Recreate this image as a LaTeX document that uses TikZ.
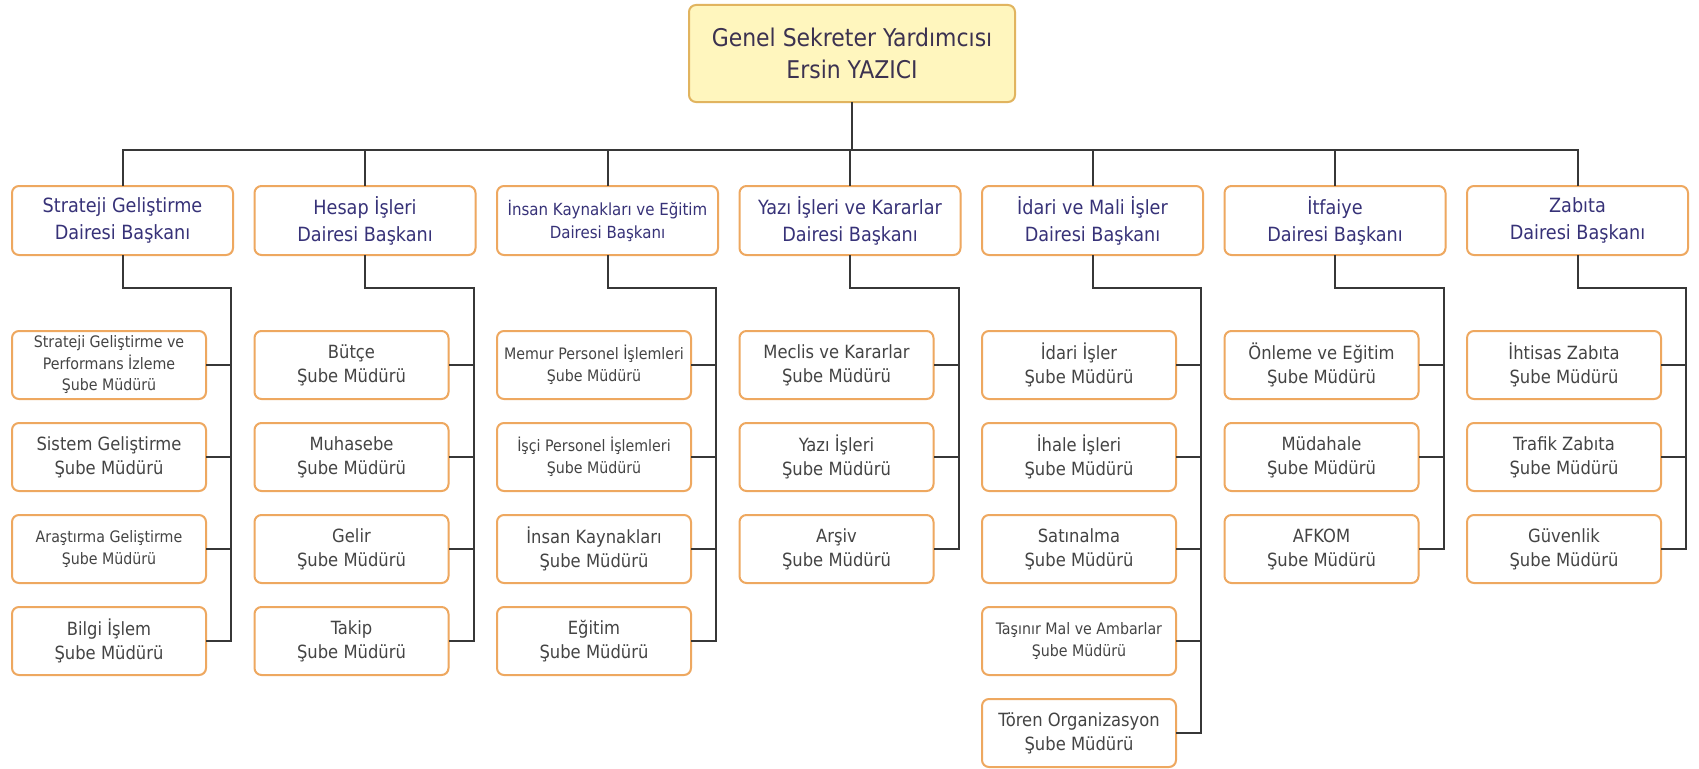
\documentclass[tikz,border=0pt]{standalone}
\usepackage{fontspec}
\setmainfont{DejaVu Sans Condensed}
\usetikzlibrary{shadows}
\definecolor{boxorange}{RGB}{238,168,96}
\definecolor{topborder}{RGB}{225,180,95}
\definecolor{topfill}{RGB}{255,246,190}
\definecolor{partext}{RGB}{55,50,120}
\definecolor{toptext}{RGB}{60,50,80}
\definecolor{chtext}{RGB}{68,68,68}
\definecolor{linecol}{RGB}{55,55,55}
\tikzset{
  box/.style={draw=boxorange, line width=2pt, rounded corners=7pt, fill=white,
    align=center, inner sep=0pt,
    drop shadow={shadow xshift=0.8pt, shadow yshift=-0.8pt, fill=boxorange!35, opacity=0.6}},
  topbox/.style={box, draw=topborder, fill=topfill, minimum width=326pt, minimum height=97pt,
    text=toptext, font=\fontsize{24.4}{32}\selectfont},
  parentbox/.style={box, minimum width=221pt, minimum height=69pt,
    text=partext, font=\fontsize{19.6}{27}\selectfont},
  parentsmall/.style={parentbox, font=\fontsize{16.7}{23}\selectfont},
  childbox/.style={box, minimum width=194pt, minimum height=68pt,
    text=chtext, font=\fontsize{18.2}{24}\selectfont},
  childsmall/.style={childbox, font=\fontsize{15.8}{21.5}\selectfont},
  conn/.style={draw=linecol, line width=2pt, line join=miter, line cap=rect}
}
\begin{document}
\begin{tikzpicture}[x=1pt, y=-1pt]
\fill[white] (0,0) rectangle (1699,768);
\useasboundingbox (0,0) rectangle (1699,768);

% top
\node[topbox] (top) at (852,53.5) {Genel Sekreter Yardımcısı\\Ersin YAZICI};

% parents
\node[parentbox] (p1) at (122.5,220.5) {Strateji Geliştirme\\Dairesi Başkanı};
\node[parentbox] (p2) at (365,220.5) {Hesap İşleri\\Dairesi Başkanı};
\node[parentsmall] (p3) at (607.5,220.5) {İnsan Kaynakları ve Eğitim\\Dairesi Başkanı};
\node[parentbox] (p4) at (850,220.5) {Yazı İşleri ve Kararlar\\Dairesi Başkanı};
\node[parentbox] (p5) at (1092.5,220.5) {İdari ve Mali İşler\\Dairesi Başkanı};
\node[parentbox] (p6) at (1335,220.5) {İtfaiye\\Dairesi Başkanı};
\node[parentbox] (p7) at (1577.5,220.5) {Zabıta\\Dairesi Başkanı};

% column 1
\node[childsmall] (c11) at (109,365) {Strateji Geliştirme ve\\Performans İzleme\\Şube Müdürü};
\node[childbox] (c12) at (109,457) {Sistem Geliştirme\\Şube Müdürü};
\node[childsmall] (c13) at (109,549) {Araştırma Geliştirme\\Şube Müdürü};
\node[childbox] (c14) at (109,641) {Bilgi İşlem\\Şube Müdürü};
% column 2
\node[childbox] (c21) at (351.5,365) {Bütçe\\Şube Müdürü};
\node[childbox] (c22) at (351.5,457) {Muhasebe\\Şube Müdürü};
\node[childbox] (c23) at (351.5,549) {Gelir\\Şube Müdürü};
\node[childbox] (c24) at (351.5,641) {Takip\\Şube Müdürü};
% column 3
\node[childsmall] (c31) at (594,365) {Memur Personel İşlemleri\\Şube Müdürü};
\node[childsmall] (c32) at (594,457) {İşçi Personel İşlemleri\\Şube Müdürü};
\node[childbox] (c33) at (594,549) {İnsan Kaynakları\\Şube Müdürü};
\node[childbox] (c34) at (594,641) {Eğitim\\Şube Müdürü};
% column 4
\node[childbox] (c41) at (836.5,365) {Meclis ve Kararlar\\Şube Müdürü};
\node[childbox] (c42) at (836.5,457) {Yazı İşleri\\Şube Müdürü};
\node[childbox] (c43) at (836.5,549) {Arşiv\\Şube Müdürü};
% column 5
\node[childbox] (c51) at (1079,365) {İdari İşler\\Şube Müdürü};
\node[childbox] (c52) at (1079,457) {İhale İşleri\\Şube Müdürü};
\node[childbox] (c53) at (1079,549) {Satınalma\\Şube Müdürü};
\node[childsmall] (c54) at (1079,641) {Taşınır Mal ve Ambarlar\\Şube Müdürü};
\node[childbox] (c55) at (1079,733) {Tören Organizasyon\\Şube Müdürü};
% column 6
\node[childbox] (c61) at (1321.5,365) {Önleme ve Eğitim\\Şube Müdürü};
\node[childbox] (c62) at (1321.5,457) {Müdahale\\Şube Müdürü};
\node[childbox] (c63) at (1321.5,549) {AFKOM\\Şube Müdürü};
% column 7
\node[childbox] (c71) at (1564,365) {İhtisas Zabıta\\Şube Müdürü};
\node[childbox] (c72) at (1564,457) {Trafik Zabıta\\Şube Müdürü};
\node[childbox] (c73) at (1564,549) {Güvenlik\\Şube Müdürü};

% top bus
\coordinate (busL) at (122.5,150);
\coordinate (busR) at (1577.5,150);
\begin{scope}[on background layer/.try]
\end{scope}
\draw[conn] (busL) -- (busR);
\draw[conn] (top.south) -- (top.south |- busL);
\foreach \p in {p1,p2,p3,p4,p5,p6,p7}{
  \draw[conn] (\p.north) -- (\p.north |- busL);
}

% elbows
\coordinate (e1) at (231,288);
\coordinate (e2) at (473.5,288);
\coordinate (e3) at (716,288);
\coordinate (e4) at (958.5,288);
\coordinate (e5) at (1201,288);
\coordinate (e6) at (1443.5,288);
\coordinate (e7) at (1686,288);

\draw[conn] (p1.south) -- (p1.south |- e1) -- (e1) -- (e1 |- c14.east);
\draw[conn] (p2.south) -- (p2.south |- e2) -- (e2) -- (e2 |- c24.east);
\draw[conn] (p3.south) -- (p3.south |- e3) -- (e3) -- (e3 |- c34.east);
\draw[conn] (p4.south) -- (p4.south |- e4) -- (e4) -- (e4 |- c43.east);
\draw[conn] (p5.south) -- (p5.south |- e5) -- (e5) -- (e5 |- c55.east);
\draw[conn] (p6.south) -- (p6.south |- e6) -- (e6) -- (e6 |- c63.east);
\draw[conn] (p7.south) -- (p7.south |- e7) -- (e7) -- (e7 |- c73.east);

\foreach \c in {c11,c12,c13,c14}{\draw[conn] (\c.east) -- (\c.east -| e1);}
\foreach \c in {c21,c22,c23,c24}{\draw[conn] (\c.east) -- (\c.east -| e2);}
\foreach \c in {c31,c32,c33,c34}{\draw[conn] (\c.east) -- (\c.east -| e3);}
\foreach \c in {c41,c42,c43}{\draw[conn] (\c.east) -- (\c.east -| e4);}
\foreach \c in {c51,c52,c53,c54,c55}{\draw[conn] (\c.east) -- (\c.east -| e5);}
\foreach \c in {c61,c62,c63}{\draw[conn] (\c.east) -- (\c.east -| e6);}
\foreach \c in {c71,c72,c73}{\draw[conn] (\c.east) -- (\c.east -| e7);}
\end{tikzpicture}
\end{document}
